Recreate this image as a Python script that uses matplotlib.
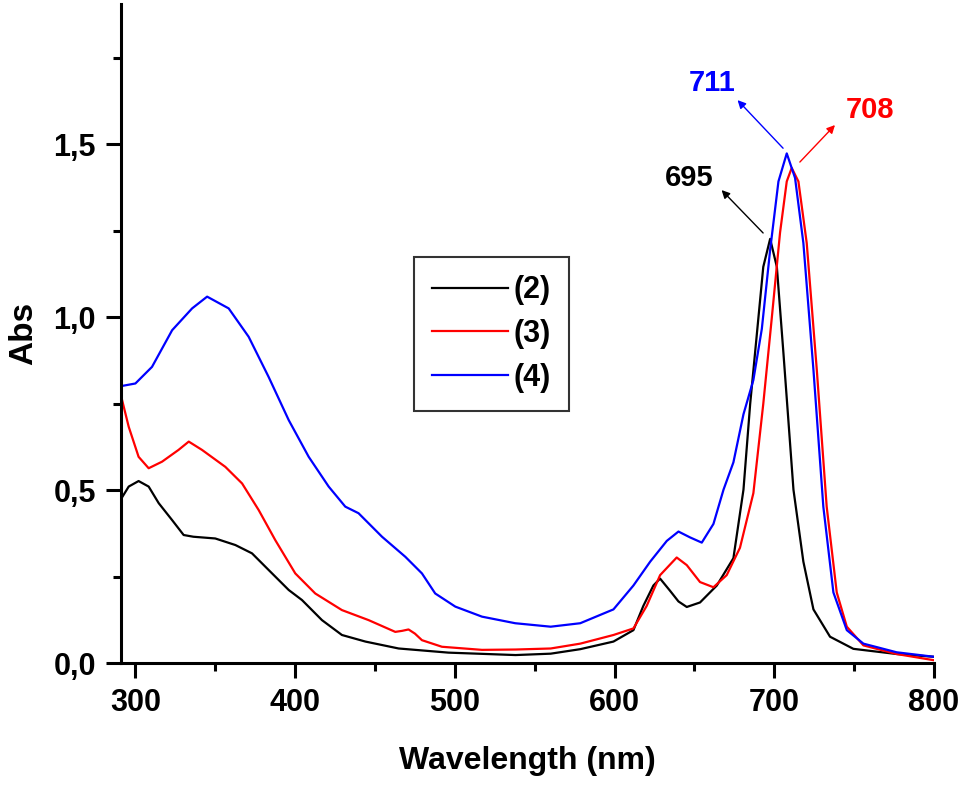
import matplotlib
matplotlib.use("Agg")
import matplotlib.pyplot as plt
from matplotlib.ticker import MultipleLocator, FuncFormatter

plt.rcParams['font.family'] = ['Liberation Sans', 'DejaVu Sans']
plt.rcParams['font.weight'] = 'bold'

# (2) black
wl_2 = [290.6, 295.8, 302, 308.3, 314.6, 323, 330.2, 336.3, 350, 362.6, 373, 383.4,
        396, 404.3, 416.8, 429.3, 444, 464.8, 496, 538, 560, 578.5, 599.3, 611.8,
        618, 624.3, 628.5, 634.7, 640, 645.2, 653.5, 664, 674.4, 680.7, 684.9, 689,
        693.1, 697.4, 701.6, 705.7, 712, 718.2, 724.5, 734.9, 749.5, 776.6, 800]
abs_2 = [0.471, 0.510, 0.526, 0.510, 0.462, 0.413, 0.370, 0.365, 0.360, 0.341, 0.317, 0.269,
         0.211, 0.182, 0.124, 0.081, 0.062, 0.042, 0.030, 0.023, 0.027, 0.040, 0.062, 0.095,
         0.165, 0.224, 0.244, 0.209, 0.178, 0.162, 0.175, 0.224, 0.303, 0.501, 0.749, 0.947,
         1.145, 1.226, 1.145, 0.897, 0.501, 0.293, 0.155, 0.076, 0.041, 0.026, 0.018]

# (3) red
wl_3 = [290.6, 295.8, 302, 308.3, 316.7, 327, 333.4, 341.7, 356.3, 366.8, 377.2, 387.6,
        400.1, 412.6, 429.3, 446, 462.7, 467, 471, 475, 479.4, 491.9, 517, 538, 560,
        578.5, 599.3, 611.8, 620.1, 628.5, 638.9, 645.2, 653.5, 661.9, 670.2, 678.5,
        686.9, 693.1, 698.4, 703.6, 707.8, 710.9, 715.1, 720.3, 726.6, 732.8, 739.1,
        745.4, 755.8, 776.6, 800]
abs_3 = [0.780, 0.683, 0.596, 0.563, 0.582, 0.616, 0.640, 0.616, 0.567, 0.519, 0.442, 0.355,
         0.259, 0.201, 0.153, 0.124, 0.090, 0.093, 0.097, 0.085, 0.066, 0.047, 0.038, 0.039, 0.042,
         0.056, 0.081, 0.100, 0.165, 0.254, 0.305, 0.283, 0.234, 0.219, 0.254, 0.333,
         0.491, 0.749, 0.996, 1.244, 1.392, 1.431, 1.392, 1.214, 0.848, 0.452, 0.204,
         0.105, 0.051, 0.026, 0.008]

# (4) blue
wl_4 = [290.6, 300, 310.4, 323, 335.5, 344.9, 358.4, 370.9, 383.4, 396, 408.5, 421,
        431.4, 439.7, 454.4, 469, 479.4, 487.7, 500.3, 517, 537.8, 560, 578.5, 599.3,
        611.8, 622.3, 632.7, 640, 647.3, 654.6, 661.9, 668.2, 674.4, 680.7, 686.9,
        692.2, 697.4, 702.6, 707.8, 713, 718.2, 724.5, 730.7, 737, 745.4, 755.8, 776.6, 800]
abs_4 = [0.800, 0.808, 0.856, 0.962, 1.025, 1.059, 1.025, 0.943, 0.827, 0.702, 0.596, 0.510,
         0.452, 0.433, 0.365, 0.307, 0.259, 0.201, 0.163, 0.134, 0.115, 0.105, 0.115, 0.155,
         0.224, 0.293, 0.353, 0.380, 0.363, 0.348, 0.402, 0.501, 0.580, 0.719, 0.818,
         0.966, 1.194, 1.392, 1.473, 1.402, 1.214, 0.848, 0.452, 0.204, 0.095, 0.056, 0.031, 0.018]

series_labels = ["(2)", "(3)", "(4)"]
series_colors = ["black", "#ff0000", "#0000ff"]

# peak annotations: label, text position, arrow tail, arrow head, color
peak_labels = ["711", "708", "695"]
peak_text_xy = [(661, 1.676), (760, 1.598), (647, 1.402)]
peak_arrow_tail = [(705.5, 1.488), (716, 1.448), (693, 1.243)]
peak_arrow_head = [(677, 1.627), (738, 1.555), (667, 1.367)]
peak_colors = ["#0000ff", "#ff0000", "black"]

fig = plt.figure(figsize=(9.69, 7.91), dpi=100)
ax = fig.add_axes([0.1249, 0.1618, 0.8390, 0.8332])

for wl, a, lab, c in zip([wl_2, wl_3, wl_4], [abs_2, abs_3, abs_4], series_labels, series_colors):
    ax.plot(wl, a, color=c, lw=1.6, label=lab)

for lab, txy, tail, head, c in zip(peak_labels, peak_text_xy, peak_arrow_tail, peak_arrow_head, peak_colors):
    ax.annotate("", xy=head, xytext=tail,
                arrowprops=dict(arrowstyle="-|>", color=c, lw=1.0, mutation_scale=12,
                                shrinkA=0, shrinkB=0))
    ax.text(txy[0], txy[1], lab, color=c, fontsize=21, fontweight='bold',
            ha='center', va='center')

ax.set_xlim(291, 800)
ax.set_ylim(0, 1.905)
ax.xaxis.set_major_locator(MultipleLocator(100))
ax.xaxis.set_minor_locator(MultipleLocator(50))
ax.yaxis.set_major_locator(MultipleLocator(0.5))
ax.yaxis.set_minor_locator(MultipleLocator(0.25))
ax.yaxis.set_major_formatter(FuncFormatter(lambda v, p: f"{v:.1f}".replace(".", ",")))

for s in ["top", "right"]:
    ax.spines[s].set_visible(False)
for s in ["left", "bottom"]:
    ax.spines[s].set_linewidth(2.2)

ax.tick_params(which='major', direction='out', length=11, width=2.2, labelsize=22, pad=7)
ax.tick_params(which='minor', direction='out', length=6, width=2.2)
for t in ax.get_xticklabels() + ax.get_yticklabels():
    t.set_fontweight('bold')

ax.set_xlabel("Wavelength (nm)", fontsize=23, fontweight='bold', labelpad=20)
ax.set_ylabel("Abs", fontsize=24, fontweight='bold', labelpad=10)

leg = ax.legend(loc='upper left', bbox_to_anchor=(0.360, 0.616), fontsize=22,
                frameon=True, fancybox=False, handlelength=2.5, handletextpad=0.15,
                labelspacing=0.45, borderpad=0.6, borderaxespad=0)
leg.get_frame().set_edgecolor('black')
leg.get_frame().set_linewidth(1.5)
for t in leg.get_texts():
    t.set_fontweight('bold')

fig.savefig("out.png", dpi=100)
